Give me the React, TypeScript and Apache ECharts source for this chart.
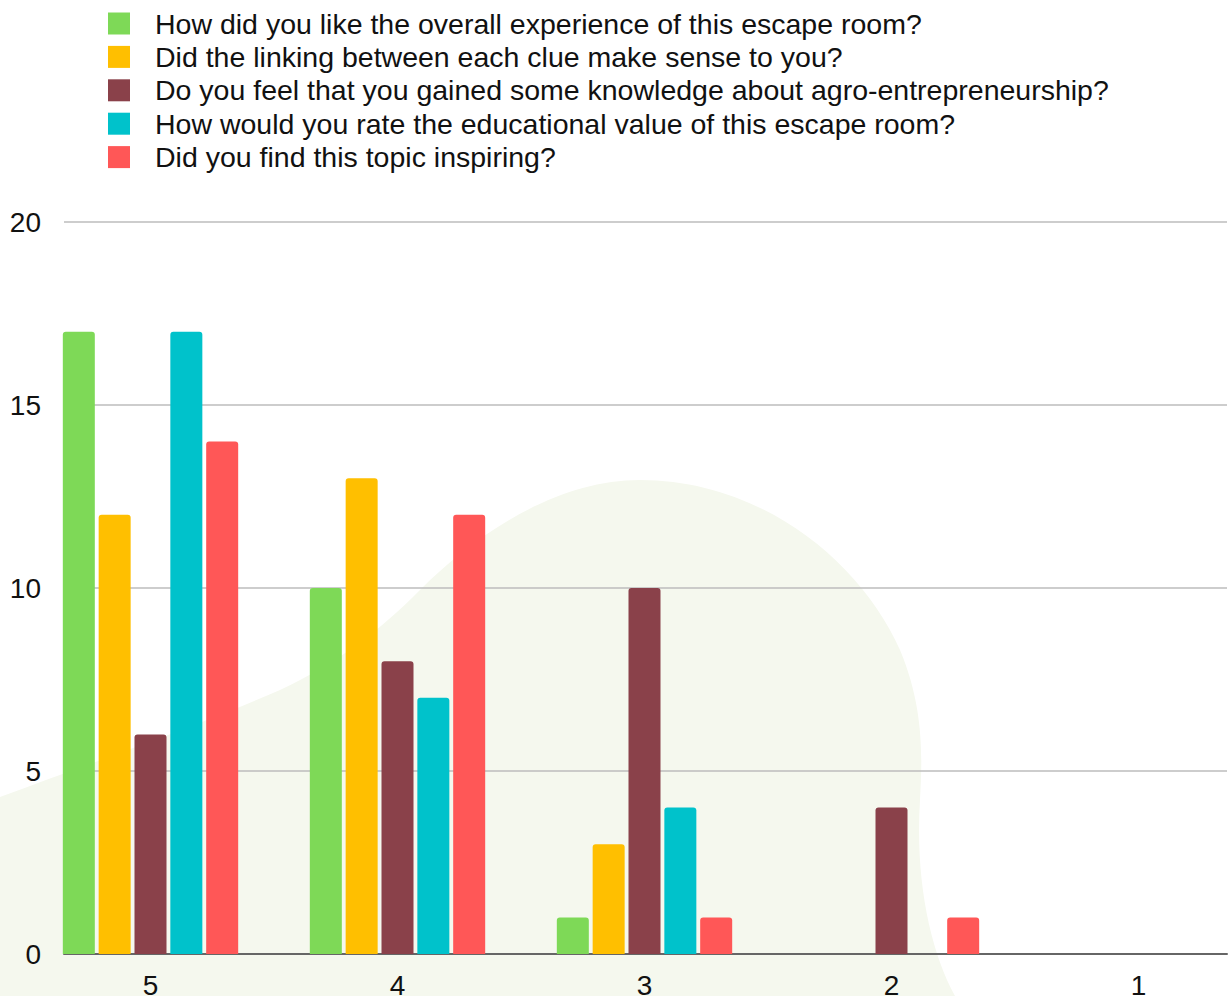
import React, { useEffect, useRef } from "react";
import * as echarts from "echarts";

const categories = ["5", "4", "3", "2", "1"];
const seriesNames = [
  "How did you like the overall experience of this escape room?",
  "Did the linking between each clue make sense to you?",
  "Do you feel that you gained some knowledge about agro-entrepreneurship?",
  "How would you rate the educational value of this escape room?",
  "Did you find this topic inspiring?",
];
const overallExperience = [17, 10, 1, 0, 0];
const linkingClues = [12, 13, 3, 0, 0];
const gainedKnowledge = [6, 8, 10, 4, 0];
const educationalValue = [17, 7, 4, 0, 0];
const topicInspiring = [14, 12, 1, 1, 0];
const seriesValues = [overallExperience, linkingClues, gainedKnowledge, educationalValue, topicInspiring];
const colors = ["#7ed957", "#ffbf00", "#8a414a", "#00c2cb", "#ff5757"];
const yTicks = [0, 5, 10, 15, 20];

const blobPath =
  "M0,797 C100,760 200,725 280,690 C340,662 380,630 420,590 C480,530 560,480 640,480 C760,480 860,560 900,650 C925,710 922,760 920,800 C915,880 930,950 955,996 L0,996 Z";

echarts.graphic.registerShape("blob", echarts.graphic.extendPath(blobPath, {}));

export default function App() {
  const ref = useRef<HTMLDivElement>(null);
  useEffect(() => {
    document.body.style.margin = "0";
    const chart = echarts.init(ref.current!, null, { renderer: "svg" });
    const font = "'Liberation Sans', Arial, sans-serif";
    chart.setOption({
      animation: false,
      backgroundColor: "#ffffff",
      textStyle: { fontFamily: font },
      graphic: [
        {
          type: "blob",
          x: 0,
          y: 0,
          z: -100,
          silent: true,
          style: { fill: "#f5f8ee" },
        },
      ],
      legend: {
        orient: "vertical",
        left: 108,
        top: 9,
        padding: 0,
        itemWidth: 22,
        itemHeight: 22,
        itemGap: 4.4,
        icon: "rect",
        data: seriesNames,
        selectedMode: false,
        textStyle: {
          fontSize: 28.5,
          color: "#111",
          fontFamily: font,
          padding: [0, 0, 0, 20],
        },
      },
      grid: [
        { left: 64, right: 1, top: 222, bottom: 42, outerBoundsMode: "none" },
        { left: 27, width: 1235, top: 222, bottom: 42, outerBoundsMode: "none" },
      ],
      xAxis: [
        {
          type: "category",
          gridIndex: 0,
          data: categories,
          axisLine: { show: true, lineStyle: { color: "#666", width: 2 } },
          axisTick: { show: false },
          axisLabel: { show: false },
        },
        {
          type: "category",
          gridIndex: 1,
          data: categories,
          axisLine: { show: false },
          axisTick: { show: false },
          axisLabel: { fontSize: 28, color: "#111", margin: 17, fontFamily: font },
        },
      ],
      yAxis: [
        {
          type: "value",
          gridIndex: 0,
          min: 0,
          max: 20,
          interval: 5,
          axisLine: { show: false },
          axisTick: { show: false },
          axisLabel: {
            fontSize: 28,
            color: "#111",
            margin: 23,
            fontFamily: font,
            formatter: (v: number) => (yTicks.includes(v) ? String(v) : ""),
          },
          splitLine: { lineStyle: { color: "#bdbdbd", width: 1.5 } },
        },
        {
          type: "value",
          gridIndex: 1,
          min: 0,
          max: 20,
          interval: 5,
          show: false,
          splitLine: { show: false },
        },
      ],
      series: seriesNames.map((name, i) => ({
        name,
        type: "bar",
        xAxisIndex: 1,
        yAxisIndex: 1,
        data: seriesValues[i],
        barWidth: 32,
        barGap: "12%",
        z: 3,
        itemStyle: { color: colors[i], borderRadius: [3, 3, 0, 0] },
      })),
    });
    return () => chart.dispose();
  }, []);
  return <div ref={ref} style={{ width: 1228, height: 996 }} />;
}
